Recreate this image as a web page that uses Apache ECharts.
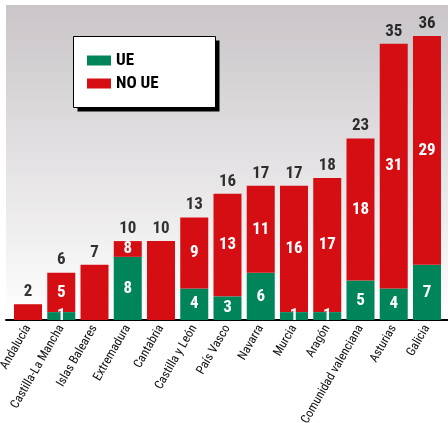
<!DOCTYPE html>
<html>
<head>
<meta charset="utf-8">
<script src="https://cdn.jsdelivr.net/npm/echarts@6/dist/echarts.min.js"></script>
<style>html,body{margin:0;padding:0;background:#fff}#c{width:448px;height:423px}</style>
</head>
<body>
<div id="c"></div>
<script>
const categories = ['Andalucía','Castilla-La Mancha','Islas Baleares','Extremadura','Cantabria','Castilla y León','País Vasco','Navarra','Murcia','Aragón','Comunidad valenciana','Asturias','Galicia'];
const ue = [0,1,0,8,0,4,3,6,1,1,5,4,7];
const noUe = [2,5,7,2,10,9,13,11,16,17,18,31,29];
const ueLabels = ['','1','','8','','4','3','6','1','1','5','4','7'];
const noUeLabels = ['','5','','8','','9','13','11','16','17','18','31','29'];
const totals = [2,6,7,10,10,13,16,17,17,18,23,35,36];

const FONT = "'Roboto Condensed','Open Sans Condensed','DejaVu Sans Condensed',sans-serif";
const GREEN = '#00845A', RED = '#D50E14';
const chart = echarts.init(document.getElementById('c'), null, {renderer:'canvas'});
chart.setOption({
  animation:false,
  grid:[
    {left:11.4, right:4.4, top:4.4, bottom:103, outerBoundsMode:'none'},
    {left:6, right:0, top:5, bottom:103, show:true, borderWidth:0, z:0, outerBoundsMode:'none',
     backgroundColor:{type:'linear',x:0,y:0,x2:0,y2:1,colorStops:[{offset:0,color:'#c9c5c8'},{offset:1,color:'#ffffff'}]}}
  ],
  graphic:[
    {type:'rect', left:77.5, top:40.5, shape:{width:142, height:71}, style:{fill:'#000'}, z:5},
    {type:'rect', left:73, top:36, shape:{width:142, height:71}, style:{fill:'#fff', stroke:'#000', lineWidth:1}, z:6}
  ],
  legend:{
    data:['UE','NO UE'], orient:'vertical', left:73, top:36, z:10,
    itemWidth:24, itemHeight:10, itemGap:6, icon:'rect',
    padding:[16,61,14,14],
    textStyle:{fontFamily:FONT, fontWeight:'bold', fontSize:17, color:'#000'}
  },
  xAxis:[
    {type:'category', data:categories, gridIndex:0,
     axisLine:{show:false}, axisTick:{show:false},
     axisLabel:{rotate:60, interval:0, margin:6, fontFamily:FONT, fontSize:12.5, color:'#111'}},
    {type:'value', gridIndex:1, min:0, max:1, axisLine:{show:true, lineStyle:{color:'#000', width:2}},
     axisTick:{show:false}, axisLabel:{show:false}, splitLine:{show:false}}
  ],
  yAxis:[
    {type:'value', gridIndex:0, min:0, max:40, show:false},
    {type:'value', gridIndex:1, min:0, max:1, show:false}
  ],
  series:[
    {name:'UE', type:'bar', stack:'a', data:ue, barWidth:28, itemStyle:{color:GREEN}, z:3,
     label:{show:true, position:'inside', color:'#fff', fontFamily:FONT, fontWeight:'bold', fontSize:17,
       formatter:p=>ueLabels[p.dataIndex]}},
    {name:'NO UE', type:'bar', stack:'a', data:noUe, barWidth:28, itemStyle:{color:RED}, z:3,
     label:{show:true, position:'inside', color:'#fff', fontFamily:FONT, fontWeight:'bold', fontSize:17,
       formatter:p=>noUeLabels[p.dataIndex]}},
    {name:'total', type:'scatter', data:totals, symbolSize:0, z:4,
     label:{show:true, position:'top', distance:4, color:'#000', fontFamily:FONT, fontWeight:'bold', fontSize:17,
       formatter:p=>String(p.value)}}
  ]
});
</script>
</body>
</html>
